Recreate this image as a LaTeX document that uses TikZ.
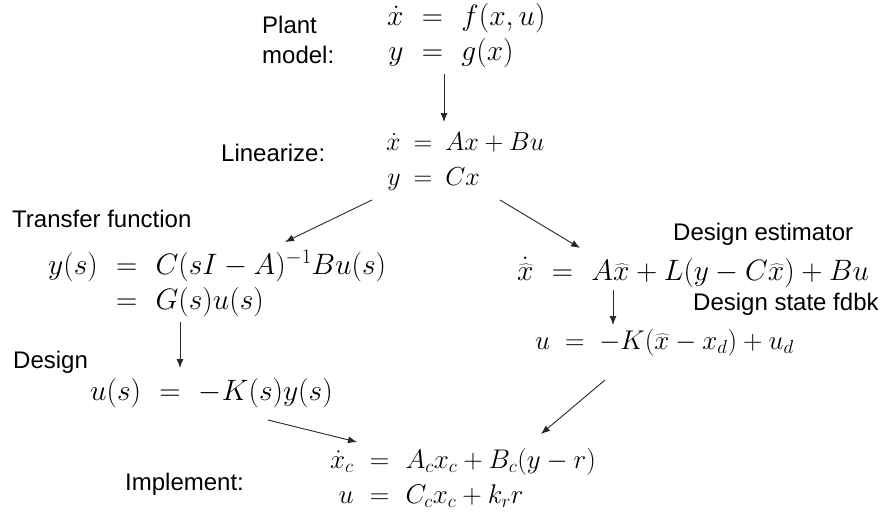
\RequirePackage{fix-cm}
\documentclass[tikz,border=0pt]{standalone}
\usepackage[no-math]{fontspec}
\newfontfamily\arialfont{Liberation Sans}
\usetikzlibrary{arrows.meta}
\newcommand{\eqsep}{\hspace{0.62em}}
\newcommand{\eqsepn}{\hspace{0.5em}}
\newcommand{\eqsepm}{\hspace{0.6em}}
\begin{document}
\begin{tikzpicture}[x=1pt,y=-1pt,
  lab/.style={font=\arialfont\fontsize{24}{30}\selectfont, inner sep=0pt, anchor=base west, align=left},
  eqn/.style={font=\fontsize{29.5}{35}\selectfont, inner sep=0pt, anchor=base west},
  eqnsmall/.style={font=\fontsize{27}{35}\selectfont, inner sep=0pt, anchor=base west},
  arr/.style={-{Latex[length=9pt,width=7pt]}, line width=0.9pt, draw=black!85}]
\useasboundingbox (0,0) rectangle (883,512);
% labels
\node[lab] (lplant) at (262,63) {Plant\\model:};
\node[lab] (llin) at (221,161) {Linearize:};
\node[lab] (ltf) at (12,227) {Transfer function};
\node[lab] (ldes) at (13,368) {Design};
\node[lab] (limp) at (125,490) {Implement:};
\node[lab] (lest) at (673,240) {Design estimator};
\node[lab] (lfb) at (693,310) {Design state fdbk};
% equations
\node[eqn] (plant) at (387,25) {$\begin{array}[t]{@{}r@{\eqsep}c@{\eqsep}l@{}}
  \dot x & = & f(x,u)\\ y & = & g(x)\end{array}$};
\node[eqnsmall, font=\fontsize{26}{35}\selectfont] (lin) at (386,150) {$\begin{array}[t]{@{}r@{\eqsepn}c@{\eqsepn}l@{}}
  \dot x & = & Ax+Bu\\ y & = & Cx\end{array}$};
\node[eqn] (tf) at (48,274) {$\begin{array}[t]{@{}r@{\eqsep}c@{\eqsep}l@{}}
  y(s) & = & C(sI-A)^{-1}Bu(s)\\ & = & G(s)u(s)\end{array}$};
\node[eqn] (des) at (90,400) {$\begin{array}[t]{@{}r@{\eqsep}c@{\eqsep}l@{}}
  u(s) & = & -K(s)y(s)\end{array}$};
\node[eqn] (est) at (517,280) {$\begin{array}[t]{@{}r@{\eqsep}c@{\eqsep}l@{}}
  \dot{\widehat{x}} & = & A\widehat{x}+L(y-C\widehat{x})+Bu\end{array}$};
\node[eqnsmall] (fb) at (535,349) {$\begin{array}[t]{@{}r@{\hspace{0.55em}}c@{\hspace{0.55em}}l@{}}
  u & = & -K(\widehat{x}-x_d)+u_d\end{array}$};
\node[eqnsmall] (imp) at (330,468) {$\begin{array}[t]{@{}r@{\eqsepm}c@{\eqsepm}l@{}}
  \dot x_c & = & A_cx_c+B_c(y-r)\\ u & = & C_cx_c+k_rr\end{array}$};
% connector ends
\coordinate (a1s) at (444,74);  \coordinate (a1e) at (444,122);
\coordinate (a2s) at (372,200); \coordinate (a2e) at (285,242);
\coordinate (a3s) at (500,200); \coordinate (a3e) at (580,248);
\coordinate (a4s) at (180,322); \coordinate (a4e) at (180,368);
\coordinate (a5s) at (268,420); \coordinate (a5e) at (357,442);
\coordinate (a6s) at (605,380); \coordinate (a6e) at (541,434);
\coordinate (a7s) at (613,290); \coordinate (a7e) at (613,325);
\draw[arr] (a1s) -- (a1e);
\draw[arr] (a2s) -- (a2e);
\draw[arr] (a3s) -- (a3e);
\draw[arr] (a4s) -- (a4e);
\draw[arr] (a5s) -- (a5e);
\draw[arr] (a6s) -- (a6e);
\draw[arr] (a7s) -- (a7e);
\end{tikzpicture}
\end{document}
